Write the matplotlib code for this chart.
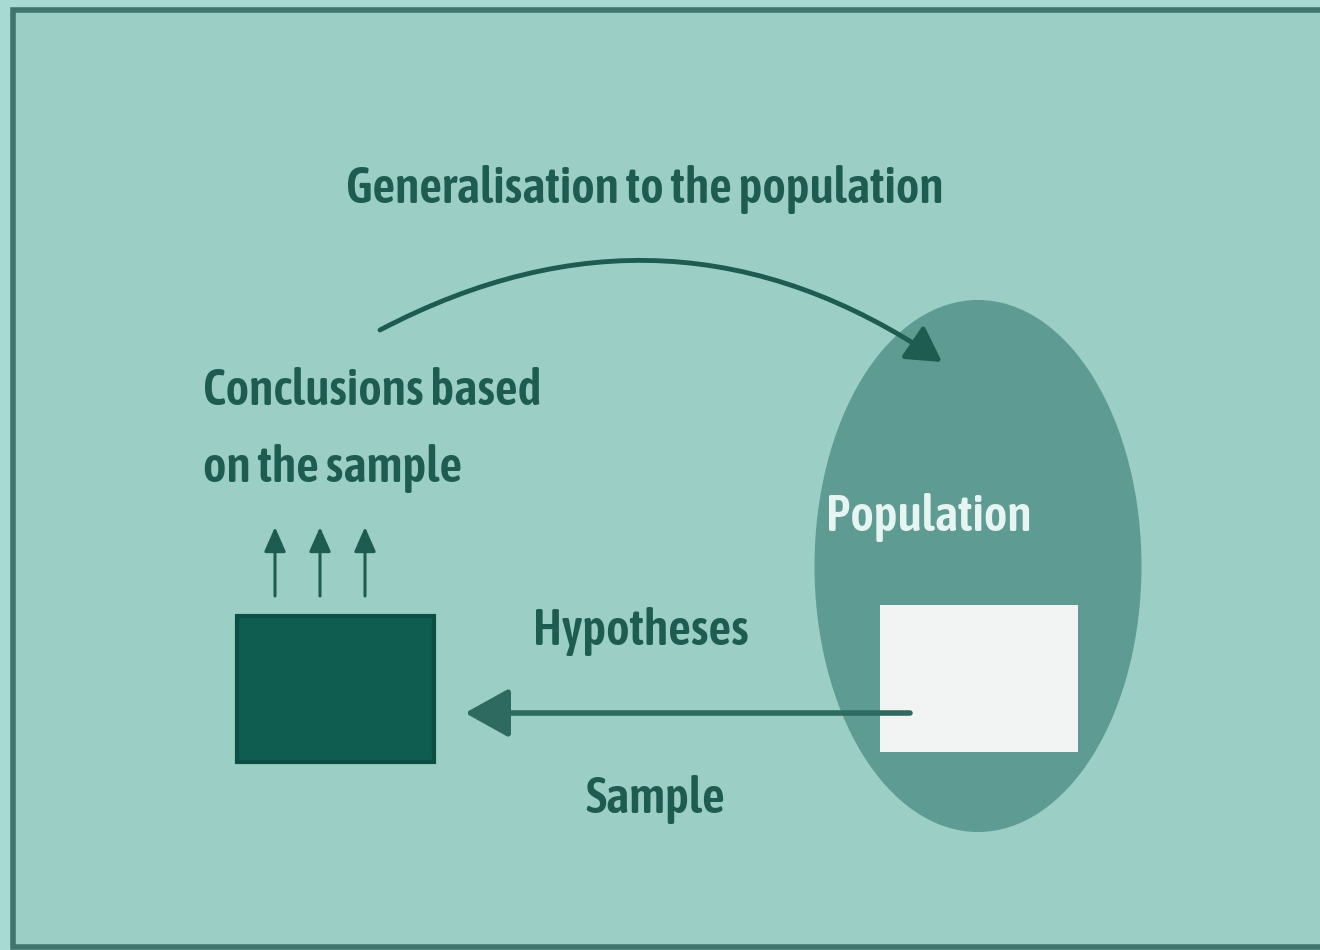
import matplotlib
matplotlib.use("Agg")
import matplotlib.pyplot as plt
from matplotlib import font_manager as fm
from matplotlib.patches import Ellipse, Rectangle, FancyArrowPatch

# Labels of the diagram
title_label = "Generalisation to the population"
conclusion_label = "Conclusions based\non the sample"
population_label = "Population"
hypotheses_label = "Hypotheses"
sample_label = "Sample"

bg = "#9BCFC6"
border = "#3F756C"
dark = "#0F5C50"
ell_col = "#5E9B92"
txt = "#1E5C51"
white = "#F1F4F2"

# pick a condensed font if one is installed
cands = []
for f in fm.fontManager.ttflist:
    n = f.name.lower()
    st = f.stretch
    if isinstance(st, str):
        cond = st in ("condensed", "semi-condensed", "extra-condensed")
    else:
        cond = st < 500
    if cond or "narrow" in n or "condensed" in n or "condensed" in f.fname.lower() or "narrow" in f.fname.lower():
        w = f.weight if not isinstance(f.weight, str) else {"bold": 700, "semibold": 600, "medium": 500}.get(f.weight, 400)
        if "italic" in f.style or "oblique" in f.style:
            continue
        cands.append((abs(w - 600), f.fname, f.name))
cands.sort()
if cands:
    fp = fm.FontProperties(fname=cands[0][1])
    size = 36
else:
    fp = fm.FontProperties(family="DejaVu Sans", weight="bold")
    size = 25

fig = plt.figure(figsize=(13.2, 9.5), dpi=100)
fig.patch.set_facecolor("#A6DAD2")
ax = fig.add_axes([0, 0, 1, 1])
ax.set_xlim(0, 1320)
ax.set_ylim(950, 0)
ax.axis("off")

ax.add_patch(Rectangle((13, 10), 1320, 937, facecolor=bg, edgecolor=border, lw=4))

ax.add_patch(Ellipse((978, 566), 327, 532, facecolor=ell_col, edgecolor="none"))
ax.add_patch(Rectangle((880, 605), 198, 147, facecolor=white, edgecolor="none"))
ax.add_patch(Rectangle((237, 616), 197, 146, facecolor=dark, edgecolor="#0B4F44", lw=3))

for x in [275, 320, 365]:
    ax.add_patch(FancyArrowPatch((x, 596), (x, 527), arrowstyle="-|>,head_length=5,head_width=2.2",
                                 color="#1E5C51", lw=2.2, mutation_scale=3, shrinkA=0, shrinkB=0))

ax.add_patch(FancyArrowPatch((910, 713), (465, 713), arrowstyle="-|>,head_length=9,head_width=5",
                             color="#2E6A5F", lw=4, mutation_scale=3, shrinkA=0, shrinkB=0))

ax.add_patch(FancyArrowPatch((380, 330), (942, 362), connectionstyle="arc3,rad=-0.3",
                             arrowstyle="-|>,head_length=7,head_width=4",
                             color="#1E5C51", lw=3.5, mutation_scale=3, shrinkA=0, shrinkB=0))

kw = dict(fontproperties=fp, fontsize=size)
ax.text(645, 190, title_label, ha="center", va="center", color=txt, **kw)
ax.text(203, 430, conclusion_label, ha="left", va="center", color=txt, linespacing=1.75, **kw)
ax.text(929, 518, population_label, ha="center", va="center", color="#E6F5F1", **kw)
ax.text(641, 631, hypotheses_label, ha="center", va="center", color=txt, **kw)
ax.text(655, 800, sample_label, ha="center", va="center", color=txt, **kw)

fig.savefig("out.png", dpi=100, facecolor=fig.get_facecolor())
